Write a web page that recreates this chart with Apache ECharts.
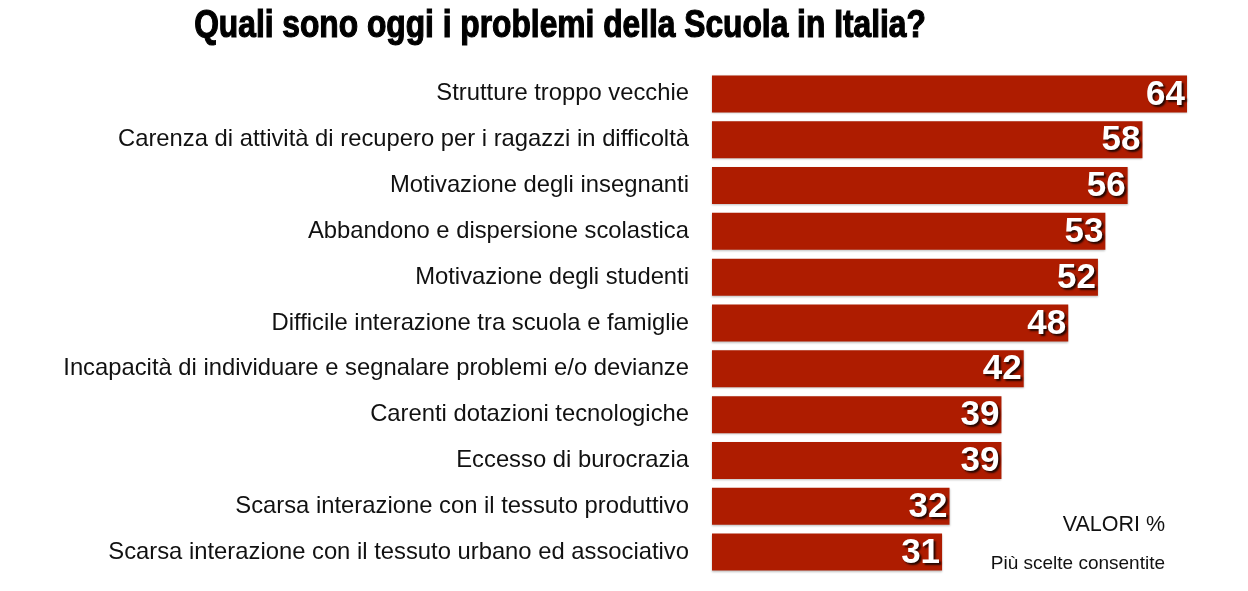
<!DOCTYPE html>
<html><head><meta charset="utf-8">
<script src="https://cdn.jsdelivr.net/npm/echarts@6/dist/echarts.min.js"></script>
<style>html,body{margin:0;padding:0;background:#fff}#c{width:1248px;height:591px}</style>
</head><body><div id="c"></div>
<script>
const titleText = "Quali sono oggi i problemi della Scuola in Italia?";
const categories = [
  "Strutture troppo vecchie",
  "Carenza di attività di recupero per i ragazzi in difficoltà",
  "Motivazione degli insegnanti",
  "Abbandono e dispersione scolastica",
  "Motivazione degli studenti",
  "Difficile interazione tra scuola e famiglie",
  "Incapacità di individuare e segnalare problemi e/o devianze",
  "Carenti dotazioni tecnologiche",
  "Eccesso di burocrazia",
  "Scarsa interazione con il tessuto produttivo",
  "Scarsa interazione con il tessuto urbano ed associativo"
];
const values = [64, 58, 56, 53, 52, 48, 42, 39, 39, 32, 31];

const chart = echarts.init(document.getElementById('c'));
chart.setOption({
  animation: false,
  graphic: [{
    type: 'text', x: 560, y: 8, scaleX: 0.835,
    style: { text: titleText, textAlign: 'center', textVerticalAlign: 'top',
      font: 'bold 38px "Liberation Sans", Arial', fill: '#000', stroke: '#000', lineWidth: 1.2 }
  }],
  title: [
    { text: "VALORI %", right: 78, top: 509,
      textStyle: { fontFamily: '"Liberation Sans", Arial', fontWeight: 'normal', fontSize: 21.5, color: '#111' } },
    { text: "Più scelte consentite", right: 78, top: 549,
      textStyle: { fontFamily: '"Liberation Sans", Arial', fontWeight: 'normal', fontSize: 19, color: '#111' } }
  ],
  grid: { left: 712, right: 61, top: 71, height: 504 },
  xAxis: { type: 'value', min: 0, max: 64, show: false },
  yAxis: {
    type: 'category', data: categories, inverse: true,
    axisLine: { show: false }, axisTick: { show: false },
    axisLabel: { fontFamily: '"Liberation Sans", Arial', fontSize: 23.8, color: '#111', margin: 23,
      padding: [0, 0, 8, 0] }
  },
  series: [{
    type: 'bar', data: values, barWidth: 37,
    itemStyle: { color: '#AE1C00', shadowColor: 'rgba(0,0,0,0.25)', shadowBlur: 2, shadowOffsetY: 1 },
    label: { show: true, position: 'insideRight', offset: [3, 1],
      fontFamily: '"Liberation Sans", Arial', fontWeight: 'bold', fontSize: 35, color: '#fff',
      textShadowColor: 'rgba(0,0,0,0.8)', textShadowBlur: 2, textShadowOffsetX: 2, textShadowOffsetY: 2 }
  }]
});
</script></body></html>
